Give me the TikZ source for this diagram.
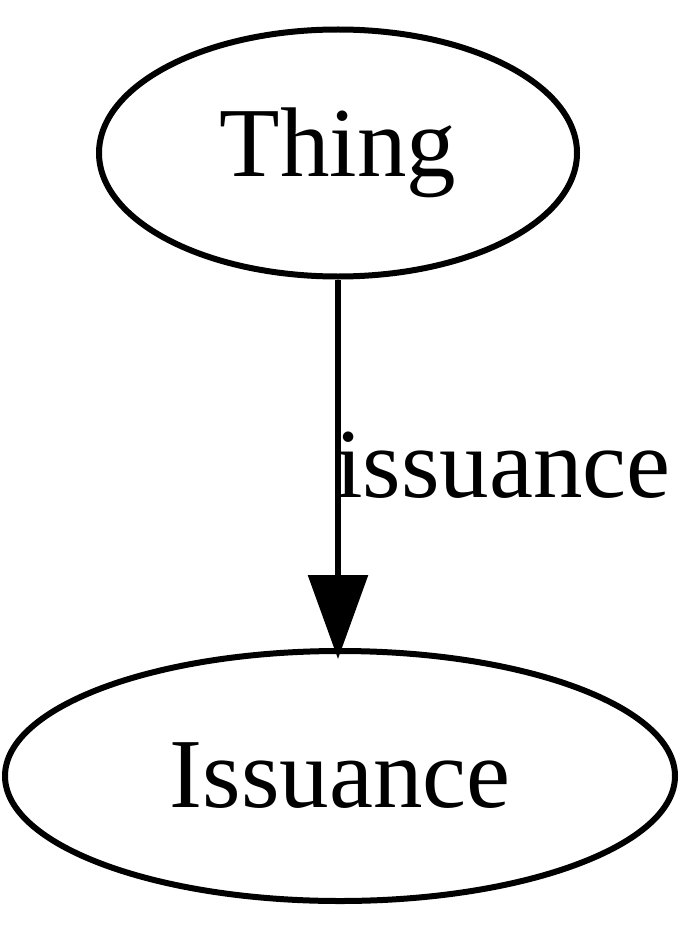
\documentclass[tikz,border=0pt]{standalone}
\usepackage{fontspec}
\setmainfont{Liberation Serif}
\usetikzlibrary{shapes.geometric,arrows.meta}
\begin{document}
\begin{tikzpicture}[x=1pt,y=1pt,
  ent/.style={draw,ellipse,line width=6pt,inner sep=0pt,font=\fontsize{99}{104}\selectfont},
  rel/.style={line width=6pt,-{Triangle[length=84pt,width=59pt]}},
  lbl/.style={font=\fontsize{99}{104}\selectfont,inner sep=0pt}]
\useasboundingbox (0,0) rectangle (700,-931);
\node[ent,minimum width=478pt,minimum height=247pt] (thing) at (338,-153) {\raisebox{-5pt}{Thing}};
\node[ent,minimum width=670pt,minimum height=250pt] (iss) at (340,-776) {Issuance};
\draw[rel] (thing.south) -- (338,-659) coordinate (tip);
\node[lbl,anchor=west] (l) at (335,-465) {issuance};
\end{tikzpicture}
\end{document}
